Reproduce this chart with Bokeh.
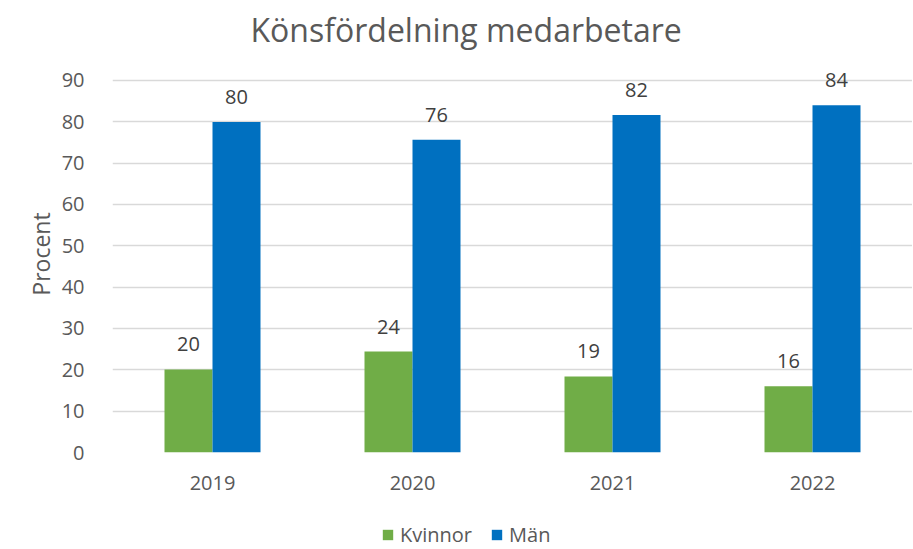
from bokeh.plotting import figure
from bokeh.layouts import column
from bokeh.models import ColumnDataSource, LabelSet, Legend, LegendItem, Range1d, FixedTicker
from bokeh.transform import dodge
from bokeh.embed import file_html
from bokeh.resources import INLINE
from bokeh.core.properties import value

years = ["2019", "2020", "2021", "2022"]
kvinnor = [20.1, 24.4, 18.4, 16.0]
man = [79.9, 75.6, 81.6, 84.0]
kvinnor_labels = ["20", "24", "19", "16"]
man_labels = ["80", "76", "82", "84"]
y_ticks = [0, 10, 20, 30, 40, 50, 60, 70, 80, 90]
series_names = ["Kvinnor", "Män"]
series_colors = ["#70AD47", "#0070C0"]

FONT = "Open Sans"
TXT = "#595959"

src = ColumnDataSource(dict(year=years, kvinnor=kvinnor, man=man,
                            kl=kvinnor_labels, ml=man_labels))

p = figure(x_range=years, y_range=Range1d(0, 96), width=912, height=500,
           output_backend="svg", toolbar_location=None,
           min_border_left=112, min_border_right=0, min_border_top=53, min_border_bottom=48)
p.outline_line_color = None
p.background_fill_color = "white"

p.title.text = "Könsfördelning medarbetare"
p.title.align = "left"
p.title.offset = 138
p.title.text_font = FONT
p.title.text_font_size = "32px"
p.title.text_font_style = "normal"
p.title.text_color = TXT

p.vbar(x=dodge("year", -0.12, range=p.x_range), top="kvinnor", width=0.24,
       source=src, fill_color=series_colors[0], line_color=None)
p.vbar(x=dodge("year", 0.12, range=p.x_range), top="man", width=0.24,
       source=src, fill_color=series_colors[1], line_color=None)

for col, lab, off in (("kvinnor", "kl", -0.12), ("man", "ml", 0.12)):
    ls = LabelSet(x=dodge("year", off, range=p.x_range), y=col, text=lab, source=src,
                  text_align="center", text_baseline="middle", y_offset=25,
                  text_font=value(FONT), text_font_size="20px", text_color="#404040")
    p.add_layout(ls)

p.yaxis.ticker = FixedTicker(ticks=y_ticks)
p.ygrid.grid_line_color = "#D9D9D9"
p.ygrid.grid_line_width = 1.5
p.xgrid.grid_line_color = None

for ax in (p.xaxis, p.yaxis):
    ax.axis_line_color = None
    ax.major_tick_line_color = None
    ax.minor_tick_line_color = None
    ax.major_label_text_font = FONT
    ax.major_label_text_font_size = "20px"
    ax.major_label_text_color = TXT

p.yaxis.major_label_standoff = 22
p.xaxis.major_label_standoff = 17
p.yaxis.axis_label = "Procent"
p.yaxis.axis_label_text_font = FONT
p.yaxis.axis_label_text_font_size = "23px"
p.yaxis.axis_label_text_font_style = "normal"
p.yaxis.axis_label_text_color = TXT
p.yaxis.axis_label_standoff = 2

# legend strip
lf = figure(width=912, height=48, x_range=Range1d(0, 1), y_range=Range1d(0, 1),
            x_axis_location=None, y_axis_location=None,
            output_backend="svg", toolbar_location=None,
            min_border_left=0, min_border_right=0, min_border_top=0, min_border_bottom=0)
lf.grid.visible = False
lf.outline_line_color = None
items = []
for name, c in zip(series_names, series_colors):
    r = lf.vbar(x=[-5], top=[-5], bottom=[-6], width=0.1, fill_color=c, line_color=None)
    items.append(LegendItem(label=name, renderers=[r]))
legend = Legend(items=items, orientation="horizontal", location=(269, 0),
                label_text_font=FONT, label_text_font_size="20px", label_text_color=TXT,
                glyph_width=13, glyph_height=13, spacing=18, label_standoff=6,
                padding=0, margin=0,
                background_fill_alpha=0, border_line_color=None)
lf.add_layout(legend)

open("out.html", "w").write(file_html(column(p, lf, spacing=0), INLINE))
